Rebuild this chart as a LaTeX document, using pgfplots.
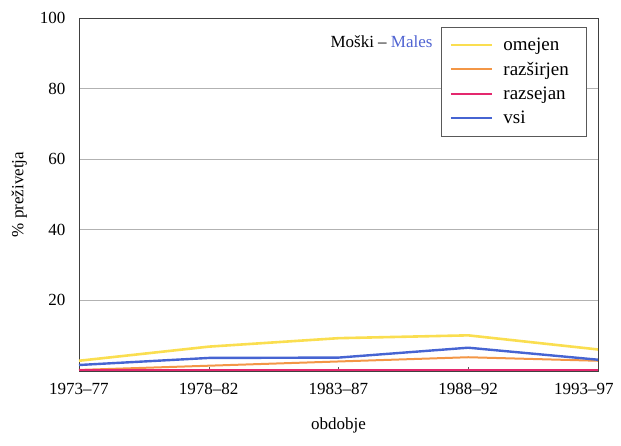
\documentclass[border=0pt]{standalone}
\usepackage{pgfplots}
\pgfplotsset{compat=1.18}
\usepackage{fontspec}
\setmainfont{Liberation Serif}
\definecolor{cyel}{RGB}{250,222,80}
\definecolor{corg}{RGB}{243,150,70}
\definecolor{cpink}{RGB}{228,40,110}
\definecolor{cblue}{RGB}{70,100,210}
\definecolor{cmal}{RGB}{80,100,210}
\begin{document}
\begin{tikzpicture}
\useasboundingbox (-79pt,-74pt) rectangle (542pt,371pt);
\begin{axis}[
  scale only axis, width=519pt, height=353pt,
  xmin=0, xmax=4, ymin=0, ymax=100,
  xtick={0,1,2,3,4},
  xticklabels={1973--77,1978--82,1983--87,1988--92,\hspace*{-28pt}1993--97},
  ytick={20,40,60,80,100},
  ymajorgrids, grid style={gray!60, line width=0.7pt},
  axis line style={black!75, line width=0.7pt},
  tick style={gray!70!black},
  major tick length=4pt,
  ytick style={draw=none},
  xtick pos=bottom, xtick align=inside,
  /pgf/number format/assume math mode=true,
  tick label style={font=\fontsize{17}{19}\selectfont},
  xticklabel style={yshift=-9pt},
  yticklabel style={xshift=-10pt},
  xlabel={obdobje}, ylabel={\% preživetja},
  label style={font=\fontsize{17}{19}\selectfont},
  xlabel style={yshift=-16pt},
  ylabel style={yshift=6pt},
  legend style={at={(0.977,0.975)}, anchor=north east, draw=gray!70!black,
    font=\fontsize{19}{21}\selectfont, row sep=8pt, inner xsep=8pt, inner ysep=10pt,
    nodes={inner sep=1pt},
    /tikz/every odd column/.append style={column sep=9pt}},
  legend cell align=left,
  legend image code/.code={\draw[#1] (0cm,0cm) -- (1.45cm,0cm);},
]
\addplot[cyel, line width=2.6pt] coordinates {(0,2.9) (1,6.9) (2,9.3) (3,10.1) (4,6.1)};
\addlegendentry{omejen}
\addplot[corg, line width=2pt] coordinates {(0,0.3) (1,1.5) (2,2.7) (3,3.9) (4,2.9)};
\addlegendentry{razširjen\hspace*{8pt}}
\addplot[cpink, line width=2pt] coordinates {(0,0.2) (1,0.2) (2,0.2) (3,0.2) (4,0.2)};
\addlegendentry{razsejan}
\addplot[cblue, line width=2.4pt] coordinates {(0,1.7) (1,3.7) (2,3.8) (3,6.6) (4,3.2)};
\addlegendentry{vsi}
\node[anchor=east, font=\fontsize{17}{19}\selectfont] at (rel axis cs:0.688,0.932) {Moški -- \textcolor{cmal}{Males}};
\end{axis}
\end{tikzpicture}
\end{document}
